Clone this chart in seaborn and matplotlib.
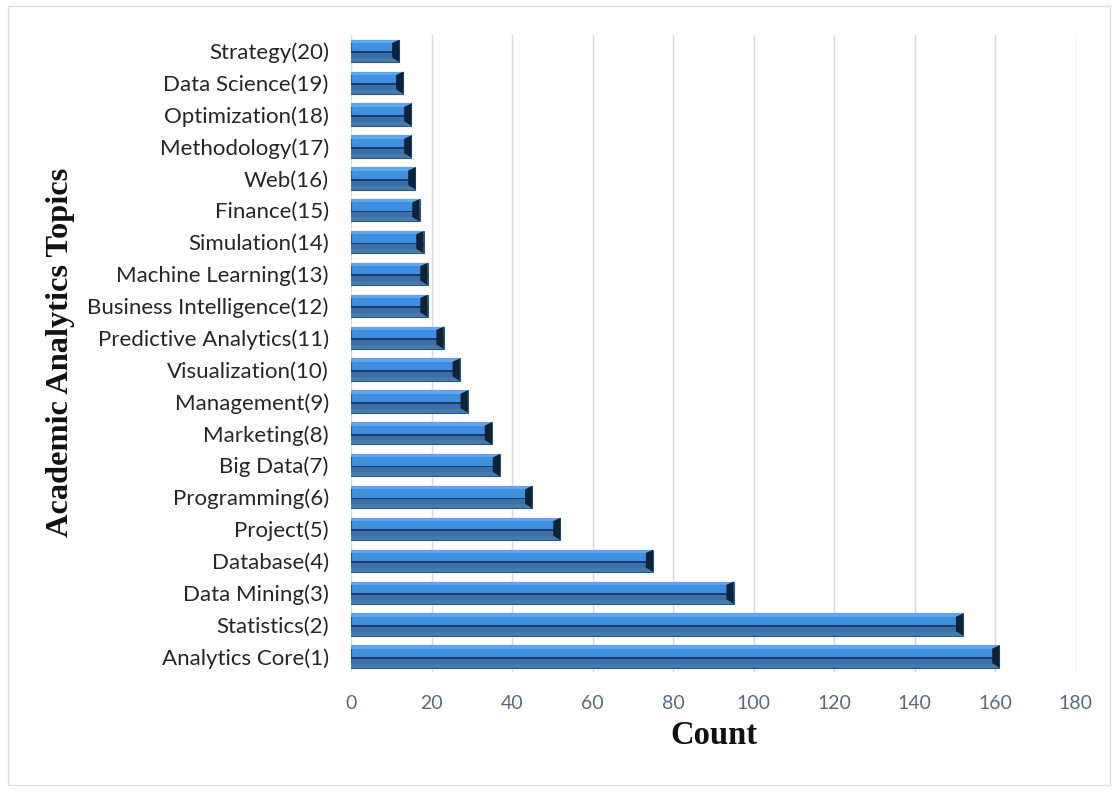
import matplotlib
matplotlib.use("Agg")
import matplotlib.pyplot as plt
import matplotlib.patches as mpatches
import seaborn as sns
import pandas as pd

topics = ["Strategy(20)", "Data Science(19)", "Optimization(18)", "Methodology(17)",
          "Web(16)", "Finance(15)", "Simulation(14)", "Machine Learning(13)",
          "Business Intelligence(12)", "Predictive Analytics(11)", "Visualization(10)",
          "Management(9)", "Marketing(8)", "Big Data(7)", "Programming(6)", "Project(5)",
          "Database(4)", "Data Mining(3)", "Statistics(2)", "Analytics Core(1)"]
counts = [12, 13, 15, 15, 16, 17, 18, 19, 19, 23, 27, 29, 35, 37, 45, 52, 75, 95, 152, 161]
x_ticks = [0, 20, 40, 60, 80, 100, 120, 140, 160, 180]

df = pd.DataFrame({"topic": topics, "count": counts})

sns.set_theme(style="white")
plt.rcParams["font.family"] = ["Lato", "DejaVu Sans"]

fig = plt.figure(figsize=(11.18, 7.91), dpi=100)
ax = fig.add_axes([0.314, 0.150, 0.6484, 0.8058])

sns.barplot(data=df, y="topic", x="count", orient="h", color="#3f8fdf",
            width=0.7, ax=ax, saturation=1, edgecolor="#27588c", linewidth=0.8, zorder=3)

# bevel-like shading derived from each drawn bar
for p in list(ax.patches):
    x0, y0 = p.get_x(), p.get_y()
    w, h = p.get_width(), p.get_height()
    # lower darker band (y axis inverted: larger y is lower)
    ax.add_patch(mpatches.Rectangle((x0, y0 + h * 0.58), w, h * 0.42,
                                    facecolor="#3670ad", edgecolor="none", zorder=4))
    ax.add_patch(mpatches.Rectangle((x0, y0 + h * 0.82), w, h * 0.18,
                                    facecolor="#4a79a8", edgecolor="none", zorder=4))
    ax.add_patch(mpatches.Rectangle((x0, y0 + h * 0.52), w, h * 0.08,
                                    facecolor="#1b3d63", edgecolor="none", zorder=5))
    ax.add_patch(mpatches.Rectangle((x0, y0), w, h * 0.15,
                                    facecolor="#5ea6ee", edgecolor="none", zorder=4))
    # dark right end cap
    cap = min(1.8, w * 0.3)
    ax.add_patch(mpatches.Polygon([(x0 + w - cap, y0 + h * 0.15), (x0 + w, y0),
                                   (x0 + w, y0 + h), (x0 + w - cap, y0 + h * 0.8)],
                                  closed=True, facecolor="#0e2238", edgecolor="none", zorder=6))

ax.set_xlim(0, 180)
ax.set_ylim(19.5, -0.5)
ax.set_xticks(x_ticks)
ax.set_xticklabels([str(t) for t in x_ticks], color="#586a7e", fontsize=14)
ax.tick_params(axis="y", labelsize=16, labelcolor="#262626", length=0, pad=16)
ax.tick_params(axis="x", length=0, pad=16)
ax.grid(axis="x", color="#d9d9d9", linewidth=1, zorder=0)
ax.set_axisbelow(True)
for s in ax.spines.values():
    s.set_visible(False)

ax.set_xlabel("Count", fontfamily="Liberation Serif", fontweight="bold", fontsize=23.5,
              color="#111111", labelpad=6)
ax.set_ylabel("")
fig.text(0.054, 0.555, "Academic Analytics Topics", rotation=90, ha="center", va="center",
         fontfamily="Liberation Serif", fontweight="bold", fontsize=23.3, color="#111111")

# faint outer frame
fig.add_artist(mpatches.Rectangle((0.007, 0.008), 0.986, 0.984, transform=fig.transFigure,
                                  fill=False, edgecolor="#e0e0e0", linewidth=1))

fig.savefig("out.png", dpi=100)
